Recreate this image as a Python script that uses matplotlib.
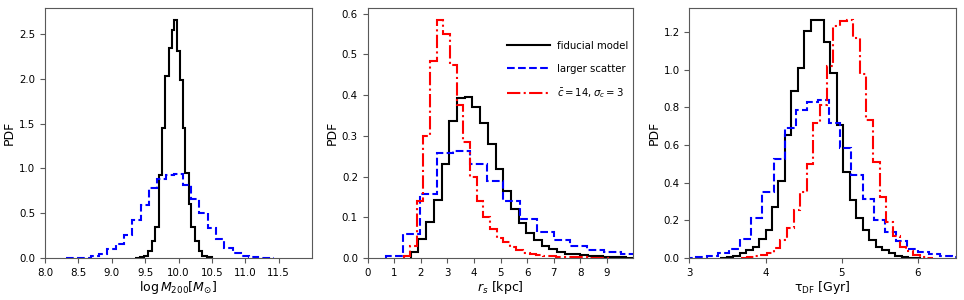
import matplotlib
matplotlib.use("Agg")
import matplotlib.pyplot as plt

# ---- panel 1: log M200 ----
m_fid_edges = [9.35, 9.42, 9.48, 9.54, 9.60, 9.655, 9.715, 9.76, 9.80, 9.864, 9.90, 9.934,
               9.975, 10.024, 10.06, 10.10, 10.15, 10.19, 10.25, 10.30, 10.35, 10.42, 10.50]
m_fid_pdf = [0.003, 0.01, 0.026, 0.075, 0.19, 0.35, 0.93, 1.45, 2.03, 2.35, 2.55, 2.66,
             2.31, 1.99, 1.45, 0.95, 0.6, 0.35, 0.19, 0.075, 0.026, 0.008]
m_scat_edges = [8.31, 8.435, 8.56, 8.685, 8.81, 8.935, 9.06, 9.185, 9.31, 9.435, 9.56, 9.685,
                9.81, 9.935, 10.06, 10.185, 10.31, 10.435, 10.56, 10.685, 10.81, 10.935,
                11.06, 11.185, 11.31, 11.435]
m_scat_pdf = [0.002, 0.003, 0.005, 0.02, 0.04, 0.1, 0.16, 0.26, 0.42, 0.59, 0.78, 0.88,
              0.93, 0.94, 0.81, 0.66, 0.5, 0.34, 0.21, 0.11, 0.06, 0.02, 0.01, 0.005, 0.003]

# ---- panel 2: r_s ----
r_fid_edges = [1.62, 1.91, 2.2, 2.49, 2.78, 3.07, 3.36, 3.65, 3.94, 4.23, 4.52, 4.81, 5.1,
               5.39, 5.68, 5.97, 6.26, 6.55, 6.84, 7.13, 7.42, 7.71, 8.0, 8.29, 8.58, 8.87,
               9.16, 9.45, 9.74, 10.03]
r_fid_pdf = [0.015, 0.046, 0.089, 0.143, 0.23, 0.336, 0.394, 0.396, 0.37, 0.332, 0.279,
             0.218, 0.165, 0.12, 0.085, 0.062, 0.044, 0.03, 0.022, 0.015, 0.011, 0.01,
             0.008, 0.006, 0.004, 0.003, 0.002, 0.002, 0.001]
r_scat_edges = [0.70, 1.33, 1.96, 2.59, 3.22, 3.85, 4.48, 5.11, 5.74, 6.37, 7.0, 7.63,
                8.26, 8.89, 9.52, 10.15]
r_scat_pdf = [0.005, 0.058, 0.157, 0.258, 0.264, 0.23, 0.189, 0.14, 0.095, 0.065, 0.044,
              0.029, 0.019, 0.014, 0.009]
r_c14_edges = [1.35, 1.6, 1.85, 2.1, 2.35, 2.6, 2.85, 3.1, 3.35, 3.6, 3.85, 4.1, 4.35, 4.6,
               4.85, 5.1, 5.35, 5.6, 5.85, 6.1, 6.35, 6.6, 6.85, 7.1, 7.35, 7.6, 7.85, 8.1,
               8.35, 8.6, 8.85, 9.1]
r_c14_pdf = [0.004, 0.03, 0.14, 0.30, 0.485, 0.585, 0.55, 0.474, 0.377, 0.285, 0.2, 0.14,
             0.1, 0.072, 0.048, 0.04, 0.027, 0.02, 0.013, 0.009, 0.007, 0.005, 0.004, 0.003,
             0.003, 0.002, 0.002, 0.002, 0.001, 0.001, 0.001]

# ---- panel 3: tau_DF ----
t_fid_edges = [3.405, 3.49, 3.575, 3.66, 3.745, 3.83, 3.915, 4.0, 4.085, 4.17, 4.255, 4.34,
               4.425, 4.51, 4.595, 4.68, 4.765, 4.85, 4.935, 5.02, 5.105, 5.19, 5.275, 5.36,
               5.445, 5.53, 5.615, 5.7, 5.785, 5.87, 5.955, 6.04]
t_fid_pdf = [0.002, 0.005, 0.012, 0.025, 0.04, 0.06, 0.103, 0.151, 0.272, 0.41, 0.655,
             0.886, 1.007, 1.206, 1.265, 1.265, 1.148, 0.984, 0.708, 0.459, 0.308, 0.214,
             0.148, 0.094, 0.06, 0.044, 0.027, 0.013, 0.005, 0.002, 0.001]
t_scat_edges = [2.938, 3.084, 3.23, 3.376, 3.522, 3.668, 3.814, 3.96, 4.106, 4.252, 4.398,
                4.544, 4.69, 4.836, 4.982, 5.128, 5.274, 5.42, 5.566, 5.712, 5.858, 6.004,
                6.15, 6.296, 6.442, 6.588]
t_scat_pdf = [0.002, 0.003, 0.008, 0.025, 0.05, 0.1, 0.21, 0.352, 0.525, 0.69, 0.785, 0.827,
              0.842, 0.717, 0.584, 0.441, 0.311, 0.2, 0.139, 0.09, 0.05, 0.032, 0.02, 0.009,
              0.005]
t_c14_edges = [3.672, 3.759, 3.846, 3.933, 4.02, 4.107, 4.194, 4.281, 4.368, 4.455, 4.542,
               4.629, 4.716, 4.803, 4.89, 4.977, 5.064, 5.151, 5.238, 5.325, 5.412, 5.499,
               5.586, 5.673, 5.76, 5.847, 5.934, 6.021, 6.108, 6.195]
t_c14_pdf = [0.002, 0.004, 0.008, 0.015, 0.027, 0.055, 0.094, 0.157, 0.254, 0.352, 0.5,
             0.717, 0.815, 1.02, 1.233, 1.26, 1.265, 1.17, 0.975, 0.735, 0.512, 0.326,
             0.192, 0.116, 0.06, 0.038, 0.015, 0.006, 0.002]

labels = ['fiducial model', 'larger scatter', r'$\bar{c}=14, \sigma_c=3$']

plt.rcParams['font.size'] = 9
plt.rcParams['mathtext.fontset'] = 'dejavusans'

fig = plt.figure(figsize=(9.64, 3.0), dpi=100)
ax1 = fig.add_axes([45 / 964, 42 / 300, 267 / 964, 250 / 300])
ax2 = fig.add_axes([367.7 / 964, 42 / 300, 265.7 / 964, 250 / 300])
ax3 = fig.add_axes([689.3 / 964, 42 / 300, 266.7 / 964, 250 / 300])

lw = 1.5
# panel 1
ax1.stairs(m_fid_pdf, m_fid_edges, color='black', lw=lw)
ax1.stairs(m_scat_pdf, m_scat_edges, color='blue', lw=lw, ls='--')
ax1.set_xlim(8, 12)
ax1.set_ylim(0, max(m_fid_pdf) * 1.05)
ax1.set_xticks([8.0, 8.5, 9.0, 9.5, 10.0, 10.5, 11.0, 11.5])
ax1.set_yticks([0.0, 0.5, 1.0, 1.5, 2.0, 2.5])
ax1.set_xlabel(r'$\log M_{200}[M_{\odot}]$', labelpad=1)

# panel 2
ax2.stairs(r_fid_pdf, r_fid_edges, color='black', lw=lw, label=labels[0])
ax2.stairs(r_scat_pdf, r_scat_edges, color='blue', lw=lw, ls='--', label=labels[1])
ax2.stairs(r_c14_pdf, r_c14_edges, color='red', lw=lw, ls='-.', label=labels[2])
ax2.set_xlim(0, 10)
ax2.set_ylim(0, max(r_c14_pdf) * 1.05)
ax2.set_xticks(range(0, 10))
ax2.set_yticks([0.0, 0.1, 0.2, 0.3, 0.4, 0.5, 0.6])
ax2.set_xlabel(r'$r_s$ [kpc]', labelpad=1)
ax2.legend(loc='upper right', frameon=False, handlelength=4.2, handletextpad=0.7,
           labelspacing=1.25, fontsize=7.3, bbox_to_anchor=(1.015, 0.905))

# panel 3
ax3.stairs(t_fid_pdf, t_fid_edges, color='black', lw=lw)
ax3.stairs(t_scat_pdf, t_scat_edges, color='blue', lw=lw, ls='--')
ax3.stairs(t_c14_pdf, t_c14_edges, color='red', lw=lw, ls='-.')
ax3.set_xlim(3, 6.5)
ax3.set_ylim(0, max(t_c14_pdf) * 1.05)
ax3.set_xticks([3, 4, 5, 6])
ax3.set_yticks([0.0, 0.2, 0.4, 0.6, 0.8, 1.0, 1.2])
ax3.set_xlabel(r'$\mathrm{\tau_{DF}}$ [Gyr]', labelpad=1)

for ax in (ax1, ax2, ax3):
    ax.set_ylabel('PDF', labelpad=2)
    for s in ax.spines.values():
        s.set_color('0.35')
    ax.tick_params(colors='0.35', labelcolor='black', labelsize=7.4, length=3.5)

fig.savefig('out.png', dpi=100)
